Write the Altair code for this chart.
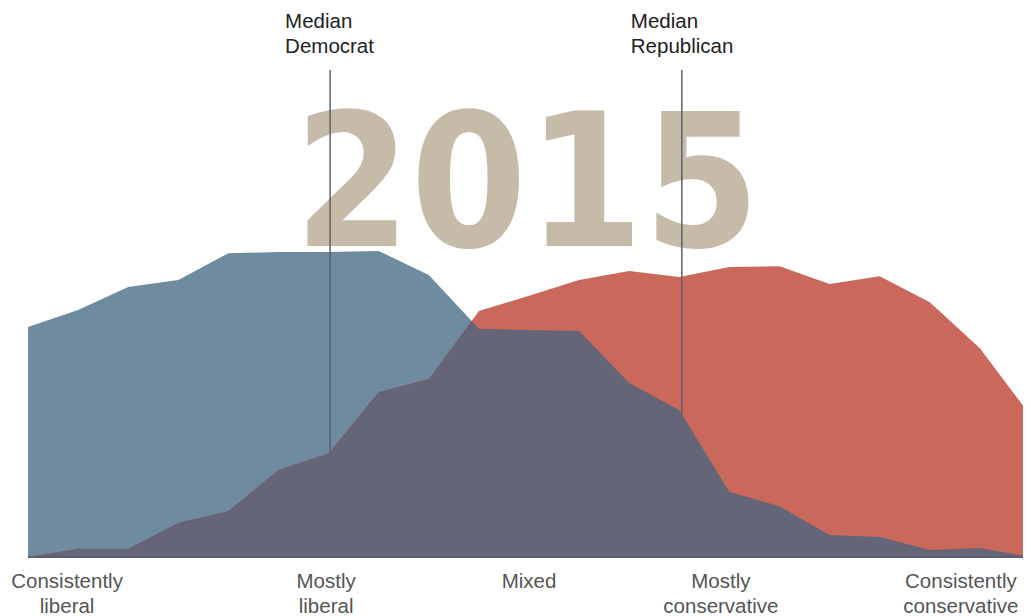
import altair as alt
import pandas as pd

# Ideological consistency scale, -10 (consistently liberal) to +10 (consistently conservative)
scale_pos = list(range(-10, 11))
# Share of each party at each scale point (%)
democrats = [6.20, 6.66, 7.28, 7.47, 8.19, 8.22, 8.22, 8.25, 7.60, 6.15, 6.12,
             6.09, 4.69, 3.96, 1.75, 1.37, 0.59, 0.54, 0.19, 0.24, 0.00]
republicans = [0.00, 0.22, 0.22, 0.92, 1.24, 2.35, 2.80, 4.45, 4.80, 6.63, 7.04,
               7.47, 7.71, 7.55, 7.82, 7.84, 7.36, 7.57, 6.87, 5.63, 3.83]

median_names = ["Median Democrat", "Median Republican"]
median_pos = [-3.97, 3.05]

tick_labels = ["Consistently liberal", "Mostly liberal", "Mixed",
               "Mostly conservative", "Consistently conservative"]
tick_pos = [-9.22, -4.05, 0.0, 3.83, 8.62]

year_label = "2015"

# ---- build tables ----
df = pd.DataFrame({"x": scale_pos, "dem": democrats, "rep": republicans})

# overlap = pointwise minimum of the two piecewise-linear curves (with exact crossings)
ov = []
for i in range(len(scale_pos)):
    ov.append((scale_pos[i], min(democrats[i], republicans[i])))
    if i < len(scale_pos) - 1:
        d0, d1 = democrats[i], democrats[i + 1]
        r0, r1 = republicans[i], republicans[i + 1]
        f0, f1 = d0 - r0, d1 - r1
        if f0 * f1 < 0:
            t = f0 / (f0 - f1)
            ov.append((scale_pos[i] + t, d0 + t * (d1 - d0)))
ov_df = pd.DataFrame(ov, columns=["x", "v"])

med_df = pd.DataFrame({"x": median_pos,
                       "label": [n.split(" ") for n in median_names]})
tick_df = pd.DataFrame({"x": tick_pos,
                        "label": [t.split(" ") for t in tick_labels]})

FONT = "Liberation Sans"
FS = 20.5
xs = alt.Scale(domain=[-10, 10], range=[0, 1002], nice=False, zero=False)
ys = alt.Scale(domain=[0, 14.8], nice=False)
X = alt.X("x:Q", scale=xs, axis=None)

base = alt.Chart(df)

year = alt.Chart(pd.DataFrame({"x": [0], "t": [year_label]})).mark_text(
    font="DejaVu Sans Condensed", fontWeight="bold", fontSize=186,
    color="#C5BBA8", align="center", baseline="alphabetic", dx=-2
).encode(x=X, y=alt.value(238), text="t:N")

dem_area = base.mark_area(color="#6F8BA0", opacity=1, interpolate="linear").encode(
    x=X, y=alt.Y("dem:Q", scale=ys, axis=None))
rep_area = base.mark_area(color="#CB685C", opacity=1, interpolate="linear").encode(
    x=X, y=alt.Y("rep:Q", scale=ys, axis=None))

med_rules = alt.Chart(med_df).mark_rule(color="#5E6070", strokeWidth=1.5).encode(
    x=X, y=alt.value(62), y2=alt.value(549))

overlap = alt.Chart(ov_df).mark_area(color="#646678", opacity=1, interpolate="linear").encode(
    x=X, y=alt.Y("v:Q", scale=ys, axis=None))

baseline = alt.Chart(pd.DataFrame({"x": [-10], "x2": [10], "y": [0]})).mark_rule(
    color="#5D5E70", strokeWidth=2).encode(
    x=X, x2="x2:Q", y=alt.Y("y:Q", scale=ys, axis=None))

med_text_d = alt.Chart(med_df.iloc[[0]]).mark_text(
    font=FONT, fontSize=FS, color="#222222", align="left", baseline="alphabetic",
    lineHeight=25, dx=-45).encode(x=X, y=alt.value(20), text="label")
med_text_r = alt.Chart(med_df.iloc[[1]]).mark_text(
    font=FONT, fontSize=FS, color="#222222", align="left", baseline="alphabetic",
    lineHeight=25, dx=-51).encode(x=X, y=alt.value(20), text="label")

ticks = alt.Chart(tick_df).mark_text(
    font=FONT, fontSize=FS, color="#555555", align="center", baseline="alphabetic",
    lineHeight=25).encode(x=X, y=alt.value(580), text="label")

chart = alt.layer(
    year, dem_area, rep_area, med_rules, overlap, baseline,
    med_text_d, med_text_r, ticks
).properties(
    width=995, height=549,
    autosize=alt.AutoSizeParams(type="none"),
    padding={"left": 20, "top": 0, "right": 0, "bottom": 60},
    background="white"
).configure_view(stroke=None)

chart.save("out.html", embed_options={"renderer": "svg", "actions": False})
